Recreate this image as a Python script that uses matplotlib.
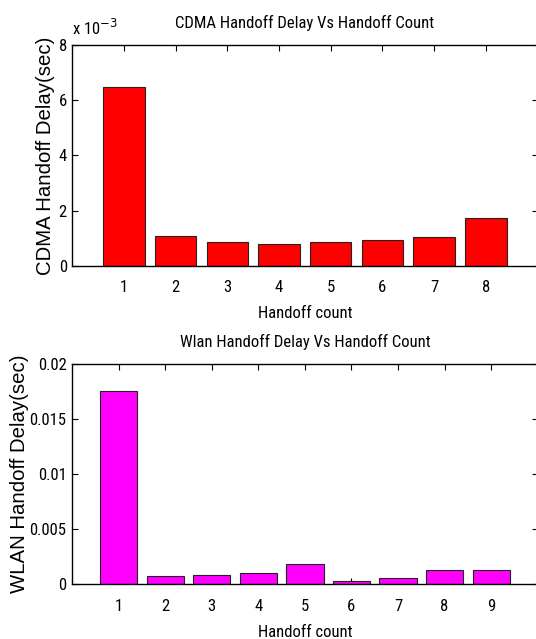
import matplotlib
matplotlib.use("Agg")
import matplotlib.pyplot as plt
from matplotlib.ticker import FuncFormatter

# data (seconds)
cdma_count = [1, 2, 3, 4, 5, 6, 7, 8]
cdma_delay = [0.00648, 0.00109, 0.00085, 0.00080, 0.00085, 0.00092, 0.00103, 0.00172]

wlan_count = [1, 2, 3, 4, 5, 6, 7, 8, 9]
wlan_delay = [0.01755, 0.00073, 0.00087, 0.00100, 0.00187, 0.00027, 0.00054, 0.00127, 0.00127]

narrow = ['Roboto Condensed', 'Liberation Sans', 'DejaVu Sans']
wide = ['Liberation Sans', 'DejaVu Sans']


def style_axes(ax):
    ax.set_axisbelow(True)
    ax.tick_params(direction='in', length=4, width=0.8, top=True, right=True,
                   labelsize=12)
    ax.tick_params(axis='x', pad=10.5)
    ax.tick_params(axis='y', pad=4)
    for lab in ax.get_xticklabels() + ax.get_yticklabels():
        lab.set_family(narrow)
    for s in ax.spines.values():
        s.set_linewidth(1.0)


fig = plt.figure(figsize=(5.36, 6.39), dpi=100)

# CDMA
ax1 = fig.add_axes([0.1349, 0.5842, 0.868, 0.3454])
ax1.bar(cdma_count, cdma_delay, width=0.8, color='#ff0000', edgecolor='#222222', linewidth=0.8)
ax1.set_xlim(0, 9)
ax1.set_ylim(0, 0.008)
ax1.set_xticks(cdma_count)
ax1.set_yticks([0, 0.002, 0.004, 0.006, 0.008])
ax1.yaxis.set_major_formatter(FuncFormatter(lambda v, p: "%g" % round(v * 1e3, 6)))
style_axes(ax1)
ax1.set_title("CDMA Handoff Delay Vs Handoff Count", family=narrow, fontsize=12, pad=12)
ax1.set_xlabel("Handoff count", family=narrow, fontsize=12, labelpad=8)
ax1.set_ylabel("CDMA Handoff Delay(sec)", family=wide, fontsize=14.7, labelpad=2.5)
ax1.annotate("x 10$^{-3}$", xy=(0, 1), xycoords='axes fraction', xytext=(0, 7),
             textcoords='offset points', family=narrow, fontsize=12,
             ha='left', va='baseline')

# WLAN
ax2 = fig.add_axes([0.1343, 0.0856, 0.869, 0.3448])
ax2.bar(wlan_count, wlan_delay, width=0.8, color='#ff00ff', edgecolor='#222222', linewidth=0.8)
ax2.set_xlim(0, 10)
ax2.set_ylim(0, 0.02)
ax2.set_xticks(wlan_count)
ax2.set_yticks([0, 0.005, 0.01, 0.015, 0.02])
ax2.yaxis.set_major_formatter(FuncFormatter(lambda v, p: "%g" % round(v, 6)))
style_axes(ax2)
ax2.set_title("Wlan Handoff Delay Vs Handoff Count", family=narrow, fontsize=12, pad=12)
ax2.set_xlabel("Handoff count", family=narrow, fontsize=12, labelpad=8)
ax2.set_ylabel("WLAN Handoff Delay(sec)", family=wide, fontsize=14.7, labelpad=0.5)

fig.savefig("out.png", dpi=100)
